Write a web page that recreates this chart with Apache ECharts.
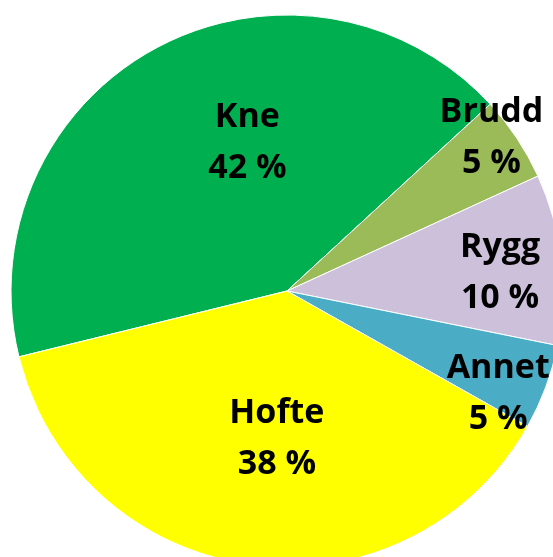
<!DOCTYPE html>
<html>
<head>
<meta charset="utf-8">
<script src="https://cdn.jsdelivr.net/npm/echarts@6/dist/echarts.min.js"></script>
<style>
    html, body { margin: 0; padding: 0; background: #fff; }
    #chart { width: 553px; height: 557px; }
</style>
</head>
<body>
<div id="chart"></div>
<script>
var categories = ['Kne', 'Brudd', 'Rygg', 'Annet', 'Hofte'];
var values = [42, 5, 10, 5, 38];
var colors = ['#00B050', '#9BBB59', '#CCC0DA', '#4BACC6', '#FFFF00'];
// label nudges from the default 'inside' spot
var labelOffsets = [[27, -24], [87, -75], [73, -2], [79, 54], [9, 8]];

var chart = echarts.init(document.getElementById('chart'));

var pieData = categories.map(function(name, i) {
    return {
        name: name,
        value: values[i],
        itemStyle: { color: colors[i] },
        label: { offset: labelOffsets[i] }
    };
});

chart.setOption({
    animation: false,
    series: [{
        type: 'pie',
        center: [287, 291],
        radius: 276,
        startAngle: 193.8,
        clockwise: true,
        silent: true,
        itemStyle: {
            borderColor: '#ffffff',
            borderWidth: 1
        },
        label: {
            position: 'inside',
            formatter: '{b}\n{c} %',
            color: '#000000',
            fontFamily: 'Open Sans',
            fontWeight: 'bold',
            fontSize: 34,
            lineHeight: 51,
            align: 'center'
        },
        labelLine: { show: false },
        data: pieData
    }]
});
</script>
</body>
</html>
